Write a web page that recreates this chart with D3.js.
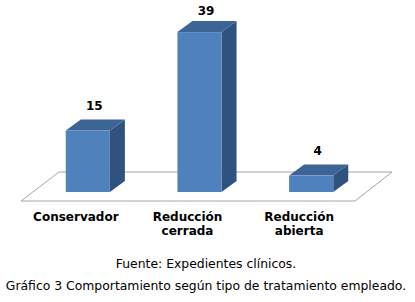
<!DOCTYPE html>
<html>
<head>
<meta charset="utf-8">
<script src="https://cdn.jsdelivr.net/npm/d3@7/dist/d3.min.js"></script>
<style>
  html, body { margin: 0; padding: 0; background: #fff; }
  svg { display: block; }
</style>
</head>
<body>
<div id="chart"></div>
<script>
// chart data
var categories = ['Conservador', 'Reducción cerrada', 'Reducción abierta'];
var labelLines = [['Conservador'], ['Reducción', 'cerrada'], ['Reducción', 'abierta']];
var values = [15, 39, 4];
var captionLines = ['Fuente: Expedientes clínicos.', 'Gráfico 3 Comportamiento según tipo de tratamiento empleado.'];

var W = 415, H = 302;
var depthX = 15, depthY = 11;     // 3d offset of the bars
var floorFront = 201, floorBack = 172;

var svg = d3.select('#chart').append('svg')
    .attr('width', W)
    .attr('height', H);

var x = d3.scaleBand()
    .domain(categories)
    .range([32, 367])
    .paddingInner(0.605)
    .paddingOuter(0.3025);

var y = d3.scaleLinear()
    .domain([0, 40])
    .range([192, 28]);

// floor
svg.append('path')
    .attr('d', 'M21,' + floorFront + 'L355,' + floorFront + 'L392,' + floorBack + 'L59,' + floorBack + 'Z')
    .attr('fill', 'none')
    .attr('stroke', '#a6a6a6')
    .attr('stroke-width', 1);

var bars = svg.selectAll('g.bar')
    .data(values)
    .enter()
    .append('g')
    .attr('class', 'bar');

var bw = x.bandwidth();

// side face
bars.append('path')
    .attr('d', function (d, i) {
        var x1 = x(categories[i]) + bw, y0 = y(0), y1 = y(d);
        return 'M' + x1 + ',' + y1 + 'L' + (x1 + depthX) + ',' + (y1 - depthY) +
            'L' + (x1 + depthX) + ',' + (y0 - depthY) + 'L' + x1 + ',' + y0 + 'Z';
    })
    .attr('fill', '#30527f');

// top face
bars.append('path')
    .attr('d', function (d, i) {
        var x0 = x(categories[i]), y1 = y(d);
        return 'M' + x0 + ',' + y1 + 'L' + (x0 + depthX) + ',' + (y1 - depthY) +
            'L' + (x0 + bw + depthX) + ',' + (y1 - depthY) + 'L' + (x0 + bw) + ',' + y1 + 'Z';
    })
    .attr('fill', '#3c6595');

// front face
bars.append('rect')
    .attr('x', function (d, i) { return x(categories[i]); })
    .attr('y', function (d) { return y(d); })
    .attr('width', bw)
    .attr('height', function (d) { return y(0) - y(d); })
    .attr('fill', '#4f81bd');

// value labels
bars.append('text')
    .attr('x', function (d, i) { return x(categories[i]) + bw / 2 + depthX / 2 - 1; })
    .attr('y', function (d) { return Math.max(15, y(d) - depthY - 10); })
    .attr('text-anchor', 'middle')
    .attr('font-family', 'DejaVu Sans, Verdana, sans-serif')
    .attr('font-weight', 'bold')
    .attr('font-size', '12px')
    .attr('fill', '#000')
    .text(function (d) { return d; });

// category labels
var cat = svg.selectAll('text.cat')
    .data(labelLines)
    .enter()
    .append('text')
    .attr('class', 'cat')
    .attr('text-anchor', 'middle')
    .attr('font-family', 'DejaVu Sans, Verdana, sans-serif')
    .attr('font-weight', 'bold')
    .attr('font-size', '12px')
    .attr('fill', '#000');

cat.selectAll('tspan')
    .data(function (d, i) { return d.map(function (t) { return { t: t, i: i }; }); })
    .enter()
    .append('tspan')
    .attr('x', function (d) { return x(categories[d.i]) + bw / 2 - 12; })
    .attr('y', function (d, j) { return 221 + j * 14; })
    .text(function (d) { return d.t; });

// captions
svg.selectAll('text.caption')
    .data(captionLines)
    .enter()
    .append('text')
    .attr('class', 'caption')
    .attr('x', 206)
    .attr('y', function (d, i) { return 268 + i * 22; })
    .attr('text-anchor', 'middle')
    .attr('font-family', 'DejaVu Sans, Verdana, sans-serif')
    .attr('font-size', '12.4px')
    .attr('fill', '#000')
    .text(function (d) { return d; });
</script>
</body>
</html>
